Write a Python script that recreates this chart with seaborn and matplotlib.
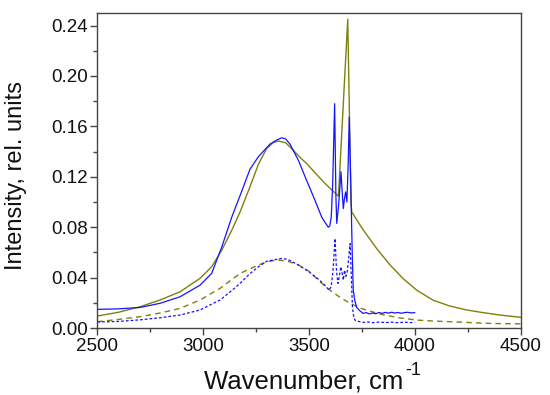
import numpy as np
import pandas as pd
import matplotlib
matplotlib.use("Agg")
import matplotlib.pyplot as plt
import seaborn as sns
from matplotlib.ticker import MultipleLocator, FormatStrFormatter

# ---- data ----
fit_total_wn = [2500, 2600, 2702, 2796, 2891, 2985, 3040, 3088, 3135, 3174, 3221, 3261, 3300,
                3330, 3355, 3390, 3426, 3460, 3489, 3530, 3568, 3605, 3639, 3683, 3698, 3702,
                3757, 3820, 3883, 3946, 4009, 4087, 4166, 4245, 4323, 4402, 4500]
fit_total_val = [0.0095, 0.0125, 0.0169, 0.0222, 0.0288, 0.0394, 0.0486, 0.0618, 0.0776, 0.092,
                 0.112, 0.130, 0.1425, 0.147, 0.1484, 0.147, 0.141, 0.135, 0.1305, 0.123, 0.116,
                 0.110, 0.1046, 0.245, 0.100, 0.092, 0.0776, 0.063, 0.050, 0.039, 0.030, 0.022,
                 0.0174, 0.0143, 0.0122, 0.0103, 0.0085]

fit_band_wn = [2500, 2600, 2702, 2800, 2891, 2985, 3079, 3174, 3261, 3300, 3350, 3400, 3450,
               3500, 3552, 3599, 3647, 3694, 3741, 3800, 3851, 3930, 4009, 4090, 4166, 4250,
               4323, 4400, 4500]
fit_band_val = [0.005, 0.0068, 0.009, 0.012, 0.0156, 0.0222, 0.0314, 0.0433, 0.050, 0.0525,
                0.054, 0.053, 0.050, 0.045, 0.0367, 0.030, 0.0243, 0.0196, 0.0158, 0.0128,
                0.0105, 0.0080, 0.0063, 0.0055, 0.0050, 0.0044, 0.0038, 0.0035, 0.0033]

meas_wn = [2500, 2600, 2702, 2796, 2891, 2985, 3040, 3088, 3135, 3174, 3221, 3261, 3316, 3345,
           3371, 3390, 3410, 3450, 3489, 3528, 3560, 3575, 3583, 3591, 3598, 3605, 3612, 3621,
           3627, 3631, 3640, 3646, 3651, 3656, 3662, 3667, 3673, 3679, 3685, 3690, 3696, 3700,
           3704, 3709, 3716, 3725, 3740, 3755, 3770, 3785, 3800, 3815, 3830, 3845, 3860, 3875,
           3890, 3905, 3920, 3935, 3950, 3965, 3980, 4000]
meas_val = [0.0148, 0.0152, 0.0163, 0.0196, 0.0248, 0.034, 0.0433, 0.0644, 0.088, 0.105, 0.126,
            0.136, 0.146, 0.149, 0.151, 0.150, 0.146, 0.133, 0.117, 0.1014, 0.088, 0.084, 0.082,
            0.080, 0.081, 0.088, 0.115, 0.178, 0.105, 0.083, 0.098, 0.112, 0.124, 0.110, 0.0948,
            0.102, 0.108, 0.100, 0.130, 0.1674, 0.125, 0.093, 0.060, 0.030, 0.022, 0.0164,
            0.0137, 0.0116, 0.0122, 0.0112, 0.0119, 0.0113, 0.0123, 0.0116, 0.0124, 0.0118,
            0.0125, 0.0119, 0.0123, 0.0117, 0.0122, 0.0125, 0.0120, 0.0122]

meas_part_wn = [2500, 2600, 2702, 2800, 2891, 2985, 3079, 3130, 3174, 3220, 3261, 3300, 3370,
                3400, 3450, 3500, 3550, 3580, 3595, 3605, 3613, 3623, 3630, 3637, 3644, 3650,
                3656, 3662, 3668, 3674, 3680, 3687, 3694, 3700, 3705, 3712, 3720, 3740, 3760,
                3780, 3800, 3830, 3860, 3890, 3920, 3950, 3980, 4000]
meas_part_val = [0.0048, 0.0052, 0.0065, 0.0082, 0.0103, 0.0143, 0.0222, 0.029, 0.0354, 0.043,
                 0.0486, 0.053, 0.0552, 0.0544, 0.050, 0.0446, 0.038, 0.033, 0.030, 0.033,
                 0.045, 0.071, 0.045, 0.0354, 0.042, 0.0486, 0.044, 0.038, 0.046, 0.041, 0.044,
                 0.055, 0.067, 0.040, 0.017, 0.0077, 0.0058, 0.0050, 0.0044, 0.0048, 0.0042,
                 0.0047, 0.0043, 0.0046, 0.0042, 0.0046, 0.0043, 0.0045]

# ---- styling ----
sns.set_style("ticks")
plt.rcParams['font.family'] = ['Liberation Sans', 'DejaVu Sans']

OLIVE = '#80800a'
BLUE = '#1414ff'
TXT = '#111111'

fig = plt.figure(figsize=(5.5, 3.95), dpi=100)
ax = fig.add_axes([0.177, 0.1696, 0.7697, 0.7975])

df_total = pd.DataFrame({'wn': fit_total_wn, 'I': fit_total_val})
df_band = pd.DataFrame({'wn': fit_band_wn, 'I': fit_band_val})
df_meas = pd.DataFrame({'wn': meas_wn, 'I': meas_val})
df_part = pd.DataFrame({'wn': meas_part_wn, 'I': meas_part_val})

sns.lineplot(data=df_total, x='wn', y='I', ax=ax, color=OLIVE, lw=1.0, sort=False, estimator=None)
sns.lineplot(data=df_band, x='wn', y='I', ax=ax, color=OLIVE, lw=1.0, sort=False, estimator=None)
ax.lines[-1].set_dashes((4, 3))
sns.lineplot(data=df_meas, x='wn', y='I', ax=ax, color=BLUE, lw=0.9, sort=False, estimator=None)
sns.lineplot(data=df_part, x='wn', y='I', ax=ax, color=BLUE, lw=0.9, sort=False, estimator=None)
ax.lines[-1].set_dashes((2.2, 1.6))

ax.set_xlim(2500, 4500)
ax.set_ylim(0, 0.25)
ax.xaxis.set_major_locator(MultipleLocator(500))
ax.xaxis.set_minor_locator(MultipleLocator(250))
ax.yaxis.set_major_locator(MultipleLocator(0.04))
ax.yaxis.set_minor_locator(MultipleLocator(0.02))
ax.yaxis.set_major_formatter(FormatStrFormatter('%.2f'))

for s in ax.spines.values():
    s.set_visible(True)
    s.set_color('#444444')
    s.set_linewidth(1.0)

ax.tick_params(which='major', direction='out', length=5, width=1, color='#444444',
               labelsize=13.5, labelcolor=TXT, pad=2)
ax.tick_params(which='minor', direction='out', length=3, width=1, color='#444444')
ax.tick_params(top=False, right=False, which='both')

ax.set_xlabel('')
ax.set_ylabel('Intensity, rel. units', fontsize=17, color=TXT)
ax.yaxis.set_label_coords(-0.166, 0.483)

# x label with a hyphen superscript
main = fig.text(204 / 550, 1 - 388 / 395, 'Wavenumber, cm', fontsize=18.5, color=TXT,
                ha='left', va='baseline')
fig.canvas.draw()
bb = main.get_window_extent(fig.canvas.get_renderer())
fig.text((bb.x1 + 2) / 550, 1 - 375 / 395, '-1', fontsize=13, color=TXT,
         ha='left', va='baseline')

fig.savefig('out.png', dpi=100)
